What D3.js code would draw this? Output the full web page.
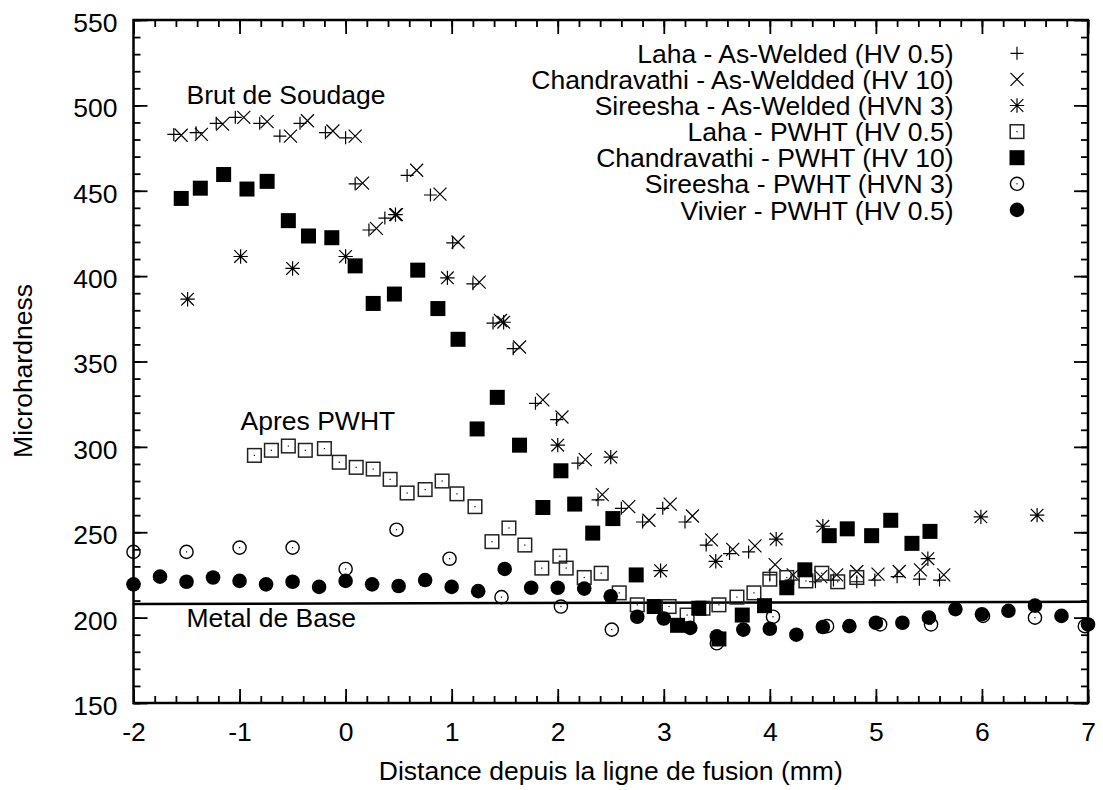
<!DOCTYPE html>
<html><head><meta charset="utf-8">
<script src="https://cdn.jsdelivr.net/npm/d3@7"></script>
<style>
body{margin:0;background:#fff}
svg text{font-family:"Liberation Sans",Arial,Helvetica,sans-serif;fill:#000}
</style>
</head><body>
<svg id="chart" width="1103" height="790"></svg>
<script>
// ---------- data ----------
const xTicks = [-2,-1,0,1,2,3,4,5,6,7];
const yTicks = [150,200,250,300,350,400,450,500,550];
const xTitle = "Distance depuis la ligne de fusion (mm)";
const yTitle = "Microhardness";

const lahaAWx = [-1.62,-1.41,-1.22,-1.04,-0.81,-0.62,-0.43,-0.19,0.0,0.09,0.22,0.37,0.58,0.80,1.01,1.20,1.39,1.58,1.79,1.99,2.19,2.38,2.60,2.80,2.99,3.20,3.40,3.62,3.80,4.00,4.20,4.43,4.60,4.82,4.99,5.20,5.41,5.60];
const lahaAWy = [483,484,489.5,493,489.5,482,489.5,484,481,454,427,434,459,447.5,419.5,395.5,372.5,357.5,325.5,316,290.5,269,264,256,264,256,242.5,237.5,238.5,225,222,221,222,221,222,224,222.5,222];

const chandraAWx = [-1.55,-1.36,-1.16,-0.96,-0.74,-0.52,-0.36,-0.12,0.09,0.16,0.29,0.48,0.67,0.89,1.06,1.26,1.46,1.64,1.86,2.04,2.26,2.42,2.67,2.86,3.06,3.27,3.45,3.65,3.86,4.05,4.22,4.48,4.63,4.82,5.02,5.22,5.42,5.64];
const chandraAWy = [482.5,483,489,493,490.5,482,491,485,482,454.5,428,436,462,448,420,396.5,374,358.5,327.5,317.5,292.5,272,265,257,266.5,259.5,245.5,240,242,231,225,224,225,227,225.5,227,228,225];

const sireeshaAWx = [-1.49,-0.99,-0.5,0.0,0.47,0.96,1.49,2.0,2.5,2.97,3.49,4.06,4.5,5.49,5.99,6.52];
const sireeshaAWy = [386.5,411.5,404.5,411.5,436,399,373,301,294,227.5,233,246,253.5,234.5,259,260];

const lahaPWx = [-0.86,-0.70,-0.54,-0.38,-0.20,-0.06,0.10,0.26,0.42,0.58,0.75,0.91,1.05,1.22,1.38,1.54,1.69,1.85,2.02,2.08,2.25,2.41,2.58,2.75,3.05,3.22,3.37,3.52,3.69,3.85,4.00,4.16,4.34,4.49,4.64,4.82];
const lahaPWy = [295,298,300.5,298,299,291,288,287,281,273,275,280,272.5,265,244.5,252.5,242.5,229,236,229,223.5,226,214.5,207.5,206.5,201.5,205.5,207.5,212,214.5,222.5,223.5,221.5,226,221,223.5];

const chandraPWx = [-1.55,-1.37,-1.15,-0.93,-0.74,-0.54,-0.35,-0.13,0.09,0.26,0.46,0.68,0.87,1.06,1.24,1.43,1.64,1.86,2.03,2.16,2.33,2.52,2.74,2.91,3.13,3.33,3.52,3.74,3.95,4.16,4.33,4.56,4.73,4.96,5.14,5.34,5.51];
const chandraPWy = [445.5,451.5,459.5,451,455.5,432.5,423.5,422.5,406,384,389.5,403.5,381,363,310.5,329,301,264.5,286,266.5,249.5,258,225,206.5,195.5,205.5,187.5,201.5,207,217.5,228,248,252,248,257,243.5,250.5];

const sireeshaPWx = [-2,-1.5,-1,-0.5,0,0.48,0.98,1.47,2.03,2.51,3.5,4.03,4.54,5.04,5.52,6.01,6.5,6.97];
const sireeshaPWy = [238.5,238.5,241,241,228.5,251.5,234.5,212,206.5,193,185,200.5,195,196,196,201,200,195];

const vivierX = [-2,-1.75,-1.5,-1.25,-1,-0.75,-0.5,-0.25,0,0.25,0.5,0.75,1,1.25,1.5,1.75,2,2.25,2.5,2.75,3,3.25,3.5,3.75,4,4.25,4.5,4.75,5,5.25,5.5,5.75,6,6.25,6.5,6.75,7];
const vivierY = [219.5,224,221,223.5,221.5,219.5,221,218,221.5,219.5,218.5,222,218,215.5,228.5,217.5,217.5,217,212.5,200.5,199.5,194,189,193,193.5,190,194.5,195,197,197,200,205,202,204,207,201,196];

const baseMetalX = [-2,7];
const baseMetalY = [208,209.3];

const legendLabels = [
  "Laha - As-Welded (HV 0.5)",
  "Chandravathi - As-Weldded (HV 10)",
  "Sireesha - As-Welded (HVN 3)",
  "Laha - PWHT (HV 0.5)",
  "Chandravathi - PWHT (HV 10)",
  "Sireesha - PWHT (HVN 3)",
  "Vivier - PWHT (HV 0.5)"
];
const markerKinds = ["plus","times","star","openSquare","filledSquare","openCircle","filledCircle"];
const annotations = [
  {text:"Brut de Soudage", x:-1.5, y:500.6},
  {text:"Apres PWHT", x:-0.99, y:310},
  {text:"Metal de Base", x:-1.5, y:194.5}
];

// ---------- chart ----------
const svg = d3.select("#chart");
const W = 1103, H = 790;
const m = {left:133.5, right:1088, top:20, bottom:703};
const FS = 26.5;
const x = d3.scaleLinear().domain([-2,7]).range([m.left,m.right]);
const y = d3.scaleLinear().domain([150,550]).range([m.bottom,m.top]);

svg.append("rect").attr("width",W).attr("height",H).attr("fill","#fff");

function styleAxis(g){
  g.select(".domain").remove();
  g.selectAll(".tick line").attr("stroke","#000").attr("stroke-width",1.8);
  g.selectAll("text").attr("font-size",FS).attr("font-family",'"Liberation Sans",Arial,sans-serif').attr("fill","#000");
  g.attr("font-family",null);
}
const fmt = d => String(d);
const xMinor = x.ticks(45), yMinor = y.ticks(40);

// bottom
svg.append("g").attr("transform",`translate(0,${m.bottom})`)
  .call(d3.axisBottom(x).tickValues(xMinor).tickSize(-7).tickFormat(""))
  .call(styleAxis);
svg.append("g").attr("transform",`translate(0,${m.bottom})`)
  .call(d3.axisBottom(x).tickValues(xTicks).tickSize(-14).tickPadding(19.5).tickFormat(fmt))
  .call(styleAxis);
// top
svg.append("g").attr("transform",`translate(0,${m.top})`)
  .call(d3.axisTop(x).tickValues(xMinor).tickSize(-7).tickFormat(""))
  .call(styleAxis);
svg.append("g").attr("transform",`translate(0,${m.top})`)
  .call(d3.axisTop(x).tickValues(xTicks).tickSize(-14).tickFormat(""))
  .call(styleAxis);
// left
svg.append("g").attr("transform",`translate(${m.left},0)`)
  .call(d3.axisLeft(y).tickValues(yMinor).tickSize(-7).tickFormat(""))
  .call(styleAxis);
const gl = svg.append("g").attr("transform",`translate(${m.left},0)`)
  .call(d3.axisLeft(y).tickValues(yTicks).tickSize(-14).tickPadding(16).tickFormat(fmt))
  .call(styleAxis);
gl.selectAll("text").attr("dy","0.43em");
// right
svg.append("g").attr("transform",`translate(${m.right},0)`)
  .call(d3.axisRight(y).tickValues(yMinor).tickSize(-7).tickFormat(""))
  .call(styleAxis);
svg.append("g").attr("transform",`translate(${m.right},0)`)
  .call(d3.axisRight(y).tickValues(yTicks).tickSize(-14).tickFormat(""))
  .call(styleAxis);

// frame
svg.append("rect").attr("x",m.left).attr("y",m.top)
  .attr("width",m.right-m.left).attr("height",m.bottom-m.top)
  .attr("fill","none").attr("stroke","#000").attr("stroke-width",2.5);

// axis titles
svg.append("text").attr("x",(m.left+m.right)/2).attr("y",780)
  .attr("text-anchor","middle").attr("font-size",FS).text(xTitle);
svg.append("text").attr("transform","translate(31.5,371) rotate(-90)")
  .attr("text-anchor","middle").attr("font-size",FS).text(yTitle);

// base metal line
svg.append("path")
  .datum(baseMetalX.map((d,i)=>[d,baseMetalY[i]]))
  .attr("d", d3.line().x(d=>x(d[0])).y(d=>y(d[1])))
  .attr("fill","none").attr("stroke","#000").attr("stroke-width",2.5);

// markers
function drawMarker(g, kind){
  const r = 6.5;
  if(kind==="plus"){
    g.append("path").attr("d",`M${-r},0H${r}M0,${-r}V${r}`).attr("stroke","#000").attr("stroke-width",1.2).attr("fill","none");
  } else if(kind==="times"){
    g.append("path").attr("d",`M${-r},${-r}L${r},${r}M${-r},${r}L${r},${-r}`).attr("stroke","#000").attr("stroke-width",1.2).attr("fill","none");
  } else if(kind==="star"){
    const s = 7.2, t = 6.3;
    g.append("path").attr("d",`M${-s},0H${s}M0,${-s}V${s}M${-t},${-t}L${t},${t}M${-t},${t}L${t},${-t}`).attr("stroke","#000").attr("stroke-width",1.2).attr("fill","none");
  } else if(kind==="openSquare"){
    g.append("rect").attr("x",-6.8).attr("y",-6.8).attr("width",13.6).attr("height",13.6).attr("fill","none").attr("stroke","#222").attr("stroke-width",1.5);
    g.append("rect").attr("x",-0.6).attr("y",-0.6).attr("width",1.2).attr("height",1.2).attr("fill","#000");
  } else if(kind==="filledSquare"){
    g.append("rect").attr("x",-7.5).attr("y",-7.5).attr("width",15).attr("height",15).attr("fill","#000");
  } else if(kind==="openCircle"){
    g.append("circle").attr("r",6.6).attr("fill","none").attr("stroke","#000").attr("stroke-width",1.4);
    g.append("rect").attr("x",-0.6).attr("y",-0.6).attr("width",1.2).attr("height",1.2).attr("fill","#000");
  } else if(kind==="filledCircle"){
    g.append("circle").attr("r",7.3).attr("fill","#000");
  }
}

const seriesX = [lahaAWx, chandraAWx, sireeshaAWx, lahaPWx, chandraPWx, sireeshaPWx, vivierX];
const seriesY = [lahaAWy, chandraAWy, sireeshaAWy, lahaPWy, chandraPWy, sireeshaPWy, vivierY];

seriesX.forEach((xs,si)=>{
  const pts = xs.map((d,i)=>({x:d,y:seriesY[si][i]}));
  svg.append("g").selectAll("g").data(pts).join("g")
    .attr("transform",d=>`translate(${x(d.x)},${y(d.y)})`)
    .each(function(){ drawMarker(d3.select(this), markerKinds[si]); });
});

// legend
const lg = svg.append("g");
legendLabels.forEach((lab,i)=>{
  const cy = 53.3 + i*26.1;
  lg.append("text").attr("x",953.5).attr("y",cy+9.6).attr("text-anchor","end").attr("font-size",FS).text(lab);
  const g = lg.append("g").attr("transform",`translate(1017,${cy})`);
  drawMarker(g, markerKinds[i]);
});

// annotations
svg.append("g").selectAll("text").data(annotations).join("text")
  .attr("x",d=>x(d.x)).attr("y",d=>y(d.y)).attr("font-size",FS).text(d=>d.text);
</script>
</body></html>
